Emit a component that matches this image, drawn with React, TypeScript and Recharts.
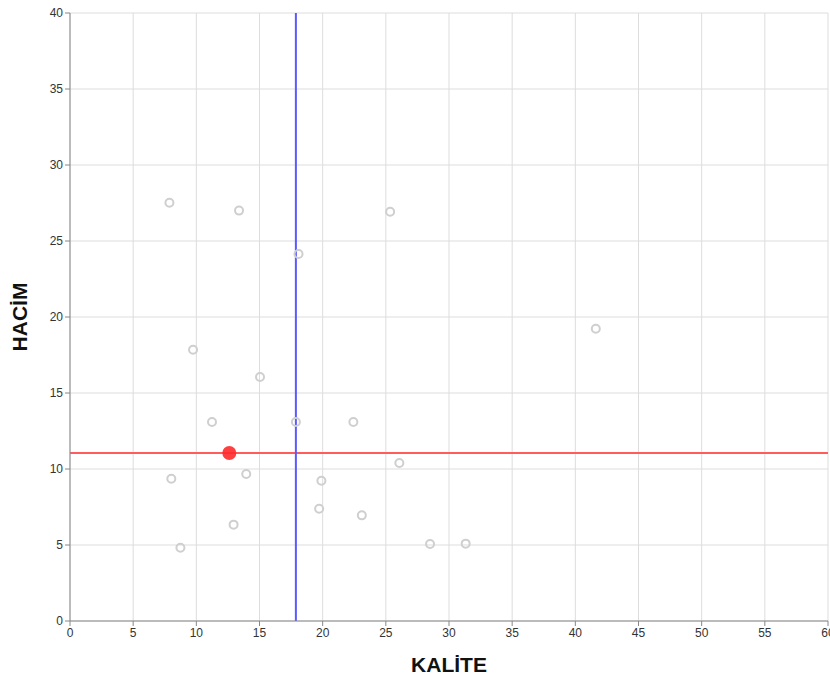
import React from "react";
import {
  ScatterChart,
  Scatter,
  XAxis,
  YAxis,
  CartesianGrid,
  ReferenceLine,
} from "recharts";

// Values
const kalite = [
  7.87, 13.38, 25.34, 18.09, 9.74, 41.62, 15.04, 11.24, 17.88, 22.43,
  26.07, 8.02, 13.95, 19.9, 19.72, 23.1, 12.95, 8.74, 28.5, 31.32,
];
const hacim = [
  27.52, 27.0, 26.93, 24.14, 17.85, 19.23, 16.05, 13.09, 13.09, 13.09,
  10.39, 9.36, 9.67, 9.23, 7.39, 6.95, 6.34, 4.82, 5.07, 5.09,
];
const selected = [{ x: 12.61, y: 11.05 }];
const thresholdX = 17.88;
const thresholdY = 11.05;
const xTicks = [0, 5, 10, 15, 20, 25, 30, 35, 40, 45, 50, 55, 60];
const yTicks = [0, 5, 10, 15, 20, 25, 30, 35, 40];

const points = kalite.map((x, i) => ({ x, y: hacim[i] }));

const FONT = "'Liberation Sans', Arial, sans-serif";
const GRID = "#dddddd";
const AXIS = "#888888";
const TICK = { fontSize: 12, fill: "#333333", fontFamily: FONT };
const LABEL_STYLE = {
  fontSize: 21,
  fontWeight: 700,
  fill: "#111111",
  fontFamily: FONT,
};

const HollowDot = (props: any) => (
  <circle
    cx={props.cx}
    cy={props.cy}
    r={4}
    fill="none"
    stroke="#cfcfcf"
    strokeWidth={2}
  />
);

const RedDot = (props: any) => (
  <circle cx={props.cx} cy={props.cy} r={7} fill="#ff2a2a" fillOpacity={0.9} />
);

export default function App() {
  return (
    <div style={{ position: "absolute", left: 0, top: 0, background: "#fff" }}>
      <ScatterChart
        width={830}
        height={680}
        margin={{ top: 13, right: 2, bottom: 0, left: 0 }}
      >
        <CartesianGrid stroke={GRID} strokeWidth={1} />
        <XAxis
          type="number"
          dataKey="x"
          domain={[0, 60]}
          ticks={xTicks}
          interval={0}
          allowDataOverflow
          height={59}
          stroke={AXIS}
          tick={TICK}
          tickSize={5}
          label={{
            value: "KALİTE",
            position: "insideBottom",
            offset: 8,
            style: LABEL_STYLE,
          }}
        />
        <YAxis
          type="number"
          dataKey="y"
          domain={[0, 40]}
          ticks={yTicks}
          interval={0}
          allowDataOverflow
          width={70}
          stroke={AXIS}
          tick={TICK}
          tickSize={5}
          label={{
            value: "HACİM",
            angle: -90,
            position: "insideLeft",
            offset: 20,
            style: { ...LABEL_STYLE, textAnchor: "middle" },
          }}
        />
        <ReferenceLine
          y={thresholdY}
          stroke="#ff5c5c"
          strokeWidth={2}
          ifOverflow="hidden"
        />
        <ReferenceLine
          x={thresholdX}
          stroke="#5a5aff"
          strokeWidth={2}
          ifOverflow="hidden"
        />
        <Scatter data={points} shape={HollowDot} isAnimationActive={false} />
        <Scatter data={selected} shape={RedDot} isAnimationActive={false} />
      </ScatterChart>
    </div>
  );
}
